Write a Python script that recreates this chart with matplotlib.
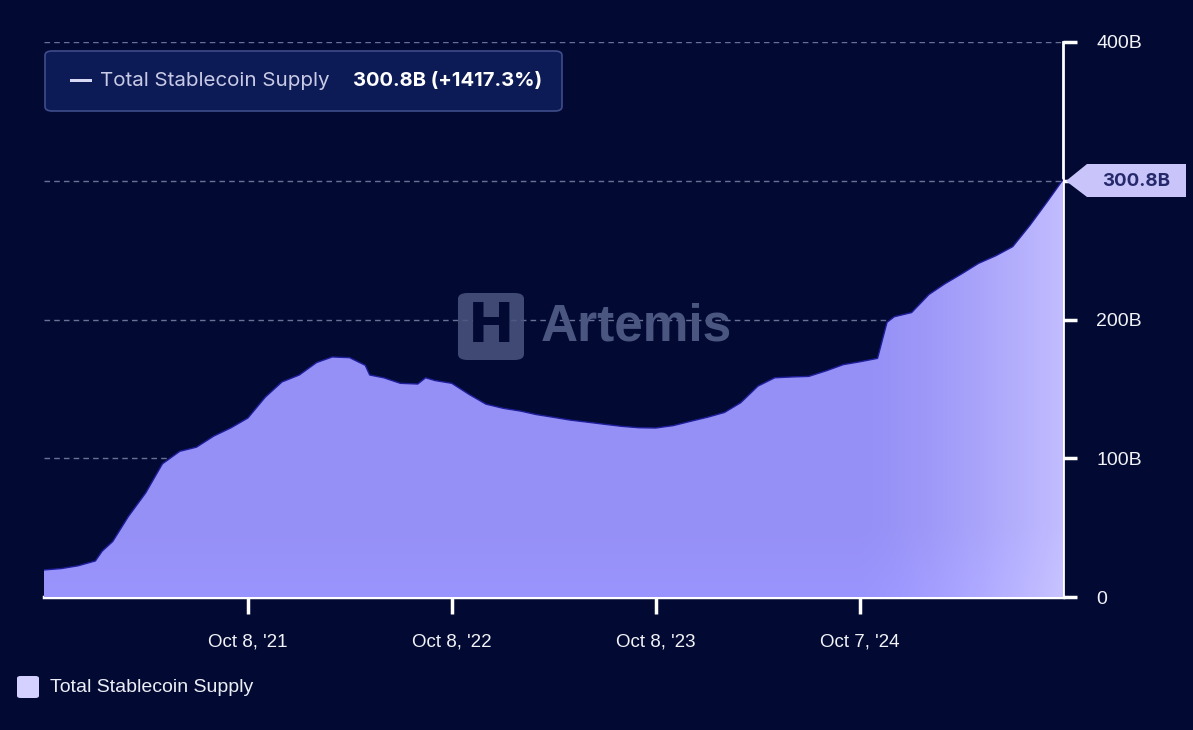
import matplotlib.pyplot as plt
import matplotlib.dates as mdates
import numpy as np
import pandas as pd
from matplotlib.patches import FancyBboxPatch, Polygon, Rectangle

# Total stablecoin supply, billions USD
dates = [
    "2020-10-08", "2020-11-08", "2020-12-08", "2021-01-08", "2021-01-20",
    "2021-02-08", "2021-03-08", "2021-04-08", "2021-05-08", "2021-06-08",
    "2021-07-08", "2021-08-08", "2021-09-08", "2021-10-08", "2021-11-08",
    "2021-12-08", "2022-01-08", "2022-02-08", "2022-03-08", "2022-04-08",
    "2022-05-06", "2022-05-14", "2022-06-08", "2022-07-08", "2022-08-08",
    "2022-08-22", "2022-09-08", "2022-10-08", "2022-11-08", "2022-12-08",
    "2023-01-08", "2023-02-08", "2023-03-08", "2023-04-08", "2023-05-08",
    "2023-06-08", "2023-07-08", "2023-08-08", "2023-09-08", "2023-10-08",
    "2023-11-08", "2023-12-08", "2024-01-08", "2024-02-08", "2024-03-08",
    "2024-04-08", "2024-05-08", "2024-06-08", "2024-07-08", "2024-08-08",
    "2024-09-08", "2024-10-07", "2024-11-08", "2024-11-25", "2024-12-08",
    "2025-01-08", "2025-02-08", "2025-03-08", "2025-04-08", "2025-05-08",
    "2025-06-08", "2025-07-08", "2025-08-08", "2025-09-08", "2025-10-06",
]
supply = [
    19.5, 20.5, 22.5, 26.0, 33.0,
    40.0, 58.0, 75.0, 96.0, 105.0,
    108.0, 116.0, 122.0, 129.0, 144.0,
    155.0, 160.0, 169.0, 173.0, 172.5,
    167.0, 160.0, 158.0, 154.0, 153.5,
    158.0, 156.0, 154.0, 146.0, 139.0,
    136.0, 134.0, 131.5, 129.5, 127.5,
    126.0, 124.5, 123.0, 122.0, 121.8,
    123.5, 126.5, 129.5, 133.0, 140.0,
    152.0, 158.0, 158.6, 159.0, 163.0,
    167.5, 169.5, 172.0, 198.0, 202.0,
    205.0, 218.0, 225.6, 233.0, 240.5,
    246.0, 252.5, 268.0, 285.0, 300.8,
]
y_ticks = [0, 100, 200, 300, 400]
y_tick_labels = ["0", "100B", "200B", "", "400B"]
x_ticks = ["2021-10-08", "2022-10-08", "2023-10-08", "2024-10-07"]
x_tick_labels = ["Oct 8, '21", "Oct 8, '22", "Oct 8, '23", "Oct 7, '24"]
series_name = "Total Stablecoin Supply"
last_label = "300.8B"
header_value = "300.8B (+1417.3%)"

bg = "#020a33"
x = mdates.date2num(pd.to_datetime(dates))
y = np.array(supply)

fig = plt.figure(figsize=(11.93, 7.30), dpi=100, facecolor=bg)
ax = fig.add_axes([44 / 1193, 1 - 597 / 730, (1063 - 44) / 1193, (597 - 42) / 730])
ax.set_facecolor(bg)
ax.set_xlim(x[0], x[-1])
ax.set_ylim(0, 400)

# grid lines
for v in y_ticks[1:]:
    ax.axhline(v, color="#6a7196", lw=1, ls=(0, (4, 3)), zorder=1)

# watermark
fig.add_artist(FancyBboxPatch((458 / 1193, 1 - 360 / 730), 66 / 1193, 67 / 730,
                              boxstyle="round,pad=0,rounding_size=0.008",
                              transform=fig.transFigure, fc="#4a5580", ec="none",
                              alpha=0.85, zorder=0.5))
fig.text(491 / 1193, 1 - 327 / 730, "H", color=bg, fontsize=40, fontweight="bold",
         ha="center", va="center", family="DejaVu Sans", zorder=0.6)
fig.text(541 / 1193, 1 - 327 / 730, "Artemis", color="#4a5580", fontsize=37,
         fontweight="bold", ha="left", va="center", family="Liberation Sans", zorder=0.6)

# area with gradient fill
fill = ax.fill_between(x, 0, y, color="none", zorder=3)
gx = np.linspace(0, 1, 256)
gy = np.linspace(0, 1, 64)
col_left = np.array([0.585, 0.565, 0.965])
col_right = np.array([0.76, 0.74, 1.0])
w = np.clip((gx - 0.8) / 0.2, 0, 1) ** 1.5
row = col_left[None, :] * (1 - w[:, None]) + col_right[None, :] * w[:, None]
# slightly lighter band near the baseline
shade = 1 + 0.03 * np.clip(1 - gy / 0.12, 0, 1)
img = np.clip(row[None, :, :] * shade[:, None, None], 0, 1)
im = ax.imshow(img, extent=[x[0], x[-1], 0, 400], origin="lower", aspect="auto",
               zorder=3, interpolation="bilinear")
im.set_clip_path(fill.get_paths()[0], transform=ax.transData)
ax.plot(x, y, color="#1f1e9a", lw=1.0, zorder=4)

# axes styling
for s in ["top", "left"]:
    ax.spines[s].set_visible(False)
ax.spines["bottom"].set_color("white")
ax.spines["bottom"].set_linewidth(2.5)
ax.spines["right"].set_color("white")
ax.spines["right"].set_linewidth(2)
ax.yaxis.tick_right()
ax.set_yticks(y_ticks)
ax.set_yticklabels(y_tick_labels)
ax.set_xticks(mdates.date2num(pd.to_datetime(x_ticks)))
ax.set_xticklabels(x_tick_labels)
ax.tick_params(axis="x", colors="white", length=12, width=2.5, pad=14, labelsize=13.5)
ax.tick_params(axis="y", colors="white", length=10, width=2.5, pad=14, labelsize=14)
for t in ax.get_xticklabels() + ax.get_yticklabels():
    t.set_family("Liberation Sans")
    t.set_color("#f2f2f7")

# last value callout
cy = 1 - 181 / 730
poly = Polygon([(1066 / 1193, cy), (1087 / 1193, cy + 17 / 730), (1186 / 1193, cy + 17 / 730),
                (1186 / 1193, cy - 16 / 730), (1087 / 1193, cy - 16 / 730)],
               closed=True, transform=fig.transFigure, fc="#c9c5fb", ec="none", zorder=5)
fig.add_artist(poly)
fig.text(1136 / 1193, cy, last_label, color="#25286a", fontsize=13.5, fontweight="bold",
         ha="center", va="center", family="Inter", zorder=6)

# header legend box
fig.add_artist(FancyBboxPatch((45 / 1193, 1 - 111 / 730), 517 / 1193, 60 / 730,
                              boxstyle="round,pad=0,rounding_size=0.006",
                              transform=fig.transFigure, fc="#0c1a55", ec="#3e4c8a",
                              lw=1.2, zorder=6))
fig.add_artist(Rectangle((70 / 1193, 1 - 82 / 730), 22 / 1193, 3 / 730,
                         transform=fig.transFigure, fc="#d8d8f5", ec="none", zorder=7))
fig.text(100 / 1193, 1 - 81 / 730, series_name, color="#c9cbe6", fontsize=14.8,
         ha="left", va="center", family="Inter", zorder=7)
fig.text(353 / 1193, 1 - 81 / 730, header_value, color="white", fontsize=14.5,
         fontweight="bold", ha="left", va="center", family="Inter", zorder=7)

# bottom legend
fig.add_artist(FancyBboxPatch((17 / 1193, 1 - 698 / 730), 22 / 1193, 22 / 730,
                              boxstyle="round,pad=0,rounding_size=0.003",
                              transform=fig.transFigure, fc="#d4d0ff", ec="none"))
fig.text(50 / 1193, 1 - 688 / 730, series_name, color="#eceef5", fontsize=14,
         ha="left", va="center", family="Liberation Sans")

fig.savefig("out.png", dpi=100, facecolor=bg)
